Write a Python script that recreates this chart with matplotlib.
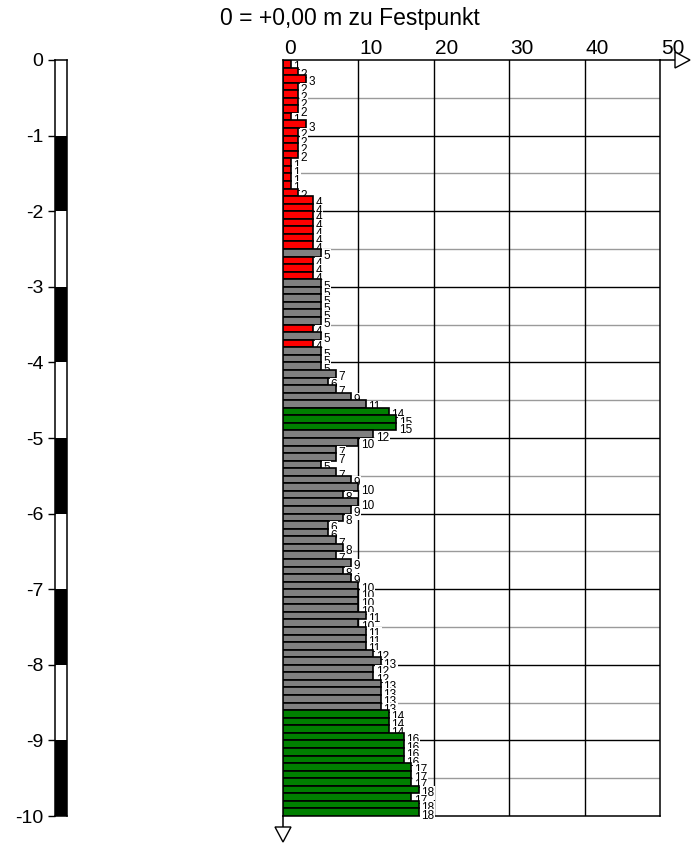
import matplotlib
matplotlib.use("Agg")
import matplotlib.pyplot as plt
from matplotlib.patches import Polygon, Rectangle

plt.rcParams['font.family'] = ['Liberation Sans', 'DejaVu Sans']

# Schlagzahlen je 10 cm Eindringung (0,0 m bis 10,0 m)
blows = [1, 2, 3, 2, 2, 2, 2, 1, 3, 2,
         2, 2, 2, 1, 1, 1, 1, 2, 4, 4,
         4, 4, 4, 4, 4, 5, 4, 4, 4, 5,
         5, 5, 5, 5, 5, 4, 5, 4, 5, 5,
         5, 7, 6, 7, 9, 11, 14, 15, 15, 12,
         10, 7, 7, 5, 7, 9, 10, 8, 10, 9,
         8, 6, 6, 7, 8, 7, 9, 8, 9, 10,
         10, 10, 10, 11, 10, 11, 11, 11, 12, 13,
         12, 12, 13, 13, 13, 13, 14, 14, 14, 16,
         16, 16, 16, 17, 17, 17, 18, 17, 18, 18]

# Einfaerbung je Messintervall: r = rot, n = grau, g = gruen
layer = (['r'] * 25 + ['n'] + ['r'] * 3 + ['n'] * 6 + ['r'] + ['n'] + ['r']
         + ['n'] * 8 + ['g'] * 3 + ['n'] * 37 + ['g'] * 14)
layer_colors = {'r': '#ff0000', 'n': '#808080', 'g': '#008000'}

step = 0.1
depth_ticks = list(range(0, -11, -1))
depth_labels = ['0', '-1', '-2', '-3', '-4', '-5', '-6', '-7', '-8', '-9', '-10']
x_ticks = [0, 10, 20, 30, 40, 50]
x_labels = ['0', '10', '20', '30', '40', '50']
title = '0 = +0,00 m zu Festpunkt'

W, H = 691, 843
fig = plt.figure(figsize=(W / 100, H / 100), dpi=100)

top_px, bot_px = 60, 816
bottom = (H - bot_px) / H
height = (bot_px - top_px) / H

# ---- Tiefenmassstab links ----
axs = fig.add_axes([55 / W, bottom, 12 / W, height])
axs.set_xlim(0, 1)
axs.set_ylim(-10, 0)
for m in range(10):
    fc = 'black' if m % 2 == 1 else 'white'
    axs.add_patch(Rectangle((0, -(m + 1)), 1, 1, facecolor=fc, edgecolor='none'))
for sp in axs.spines.values():
    sp.set_linewidth(1.1)
    sp.set_color('black')
axs.set_xticks([])
axs.set_yticks(depth_ticks)
axs.set_yticklabels(depth_labels, fontsize=14)
axs.tick_params(axis='y', length=5, width=1, pad=3.5, color='black')

# ---- Diagramm ----
ax = fig.add_axes([283 / W, bottom, 377 / W, height])
ax.set_xlim(0, 50)
ax.set_ylim(-10, 0)
ax.set_xticks([])
ax.set_yticks([])
for sp in ax.spines.values():
    sp.set_linewidth(1.1)
    sp.set_color('black')
    sp.set_zorder(50)

for d in range(1, 20):
    y = -d * 0.5
    if d % 2 == 0:
        ax.axhline(y, color='black', lw=1.0, zorder=1)
    else:
        ax.axhline(y, color='#9a9a9a', lw=1.0, zorder=1)
for xv in x_ticks[1:-1]:
    ax.axvline(xv, color='black', lw=1.0, zorder=1)

for i, (v, c) in enumerate(zip(blows, layer)):
    yc = -(i + 0.5) * step
    ax.barh(yc, v, height=step, color=layer_colors[c], edgecolor='black',
            linewidth=1.2, zorder=5 + 2 * i)
    ax.annotate(str(v), xy=(v, yc), xytext=(2.5, -3.5), textcoords='offset pixels',
                ha='left', va='center', fontsize=8.5, zorder=6 + 2 * i,
                bbox=dict(boxstyle='square,pad=0.08', facecolor='white',
                          edgecolor='none'))

# x-Beschriftung oben
for xv, lab in zip(x_ticks, x_labels):
    ax.annotate(lab, xy=(xv, 0), xytext=(1, 6), textcoords='offset pixels',
                ha='left', va='baseline', fontsize=15, annotation_clip=False)

# Achsenpfeile
px_x = 50 / 377  # Dateneinheiten je Pixel (x)
px_y = 10 / 756  # Dateneinheiten je Pixel (y)
ax.plot([50, 50 + 15 * px_x], [0, 0], color='black', lw=1.1, clip_on=False, zorder=60)
ax.add_patch(Polygon([(50 + 15 * px_x, 8 * px_y), (50 + 15 * px_x, -8 * px_y),
                      (50 + 30 * px_x, 0)], closed=True, facecolor='white',
                     edgecolor='black', lw=1.0, clip_on=False, zorder=60))
ax.plot([0, 0], [-10, -10 - 11 * px_y], color='black', lw=1.1, clip_on=False, zorder=60)
ax.add_patch(Polygon([(-8 * px_x, -10 - 11 * px_y), (8 * px_x, -10 - 11 * px_y),
                      (0, -10 - 26 * px_y)], closed=True, facecolor='white',
                     edgecolor='black', lw=1.0, clip_on=False, zorder=60))

fig.text(350 / W, 1 - 19 / H, title, ha='center', va='center', fontsize=16.5)

fig.savefig('out.png', dpi=100)
